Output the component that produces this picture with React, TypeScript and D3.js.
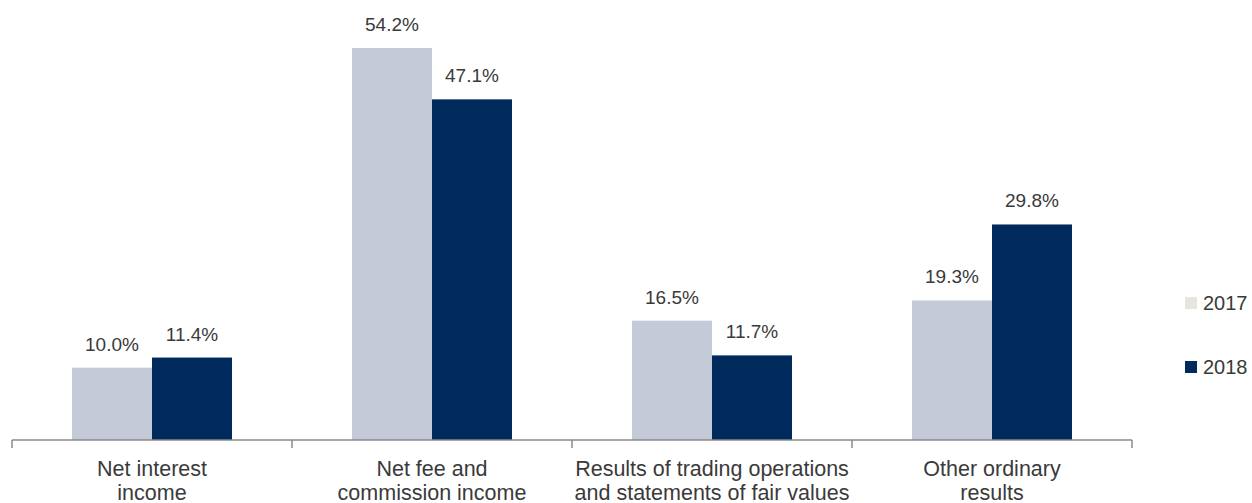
import React from "react";
import * as d3 from "d3";

const categories: string[][] = [
  ["Net interest", "income"],
  ["Net fee and", "commission income"],
  ["Results of trading operations", "and statements of fair values"],
  ["Other ordinary", "results"],
];
const seriesNames = ["2017", "2018"];
const values2017 = [10.0, 54.2, 16.5, 19.3];
const values2018 = [11.4, 47.1, 11.7, 29.8];

const W = 1252;
const H = 503;
const barColors = ["#c5cad9", "#002a5c"];
const legendColors = ["#e8e6dc", "#002a5c"];
const textColor = "#3a3a3a";
const font = "'Liberation Sans', Arial, sans-serif";

export default function App() {
  const x0 = d3
    .scaleBand<number>()
    .domain(categories.map((_, i) => i))
    .range([12, 1132])
    .paddingInner(0)
    .paddingOuter(0);
  const x1 = d3
    .scaleBand<number>()
    .domain([0, 1])
    .range([60, x0.bandwidth() - 60])
    .padding(0);
  const y = d3.scaleLinear().domain([0, 54.2]).range([440, 48]);
  const series = [values2017, values2018];

  return (
    <svg
      width={W}
      height={H}
      style={{ position: "absolute", left: 0, top: 0, background: "#fff" }}
      fontFamily={font}
    >
      {series.map((vals, s) =>
        vals.map((v, i) => {
          const bx = (x0(i) as number) + (x1(s) as number);
          return (
            <g key={`${s}-${i}`}>
              <rect
                x={bx}
                y={y(v)}
                width={x1.bandwidth()}
                height={y(0) - y(v)}
                fill={barColors[s]}
              />
              <text
                x={bx + x1.bandwidth() / 2}
                y={y(v) - 17}
                textAnchor="middle"
                fontSize={19}
                fill={textColor}
              >
                {v.toFixed(1)}%
              </text>
            </g>
          );
        })
      )}
      <line x1={12} x2={1132} y1={440} y2={440} stroke="#8a8a8a" strokeWidth={1.5} />
      {d3.range(categories.length + 1).map((i) => {
        const tx = i < categories.length ? (x0(i) as number) : 1132;
        return <line key={i} x1={tx} x2={tx} y1={440} y2={448} stroke="#8a8a8a" strokeWidth={1.5} />;
      })}
      {categories.map((lines, i) => (
        <text
          key={i}
          x={(x0(i) as number) + x0.bandwidth() / 2}
          textAnchor="middle"
          fontSize={21.5}
          fill={textColor}
        >
          {lines.map((l, j) => (
            <tspan key={j} x={(x0(i) as number) + x0.bandwidth() / 2} y={476 + j * 24}>
              {l}
            </tspan>
          ))}
        </text>
      ))}
      {seriesNames.map((name, s) => (
        <g key={name} transform={`translate(1185, ${297 + s * 64})`}>
          <rect x={0} y={0} width={12} height={12} fill={legendColors[s]} />
          <text x={18} y={13} fontSize={20} fill={textColor}>
            {name}
          </text>
        </g>
      ))}
    </svg>
  );
}
